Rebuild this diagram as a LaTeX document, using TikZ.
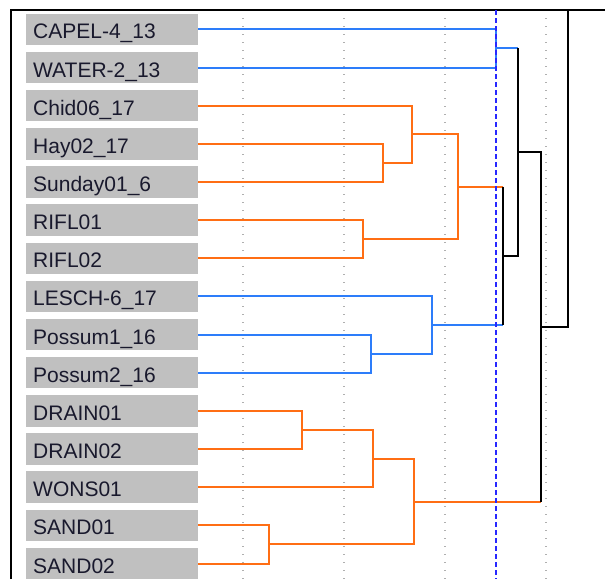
\documentclass[tikz,border=0pt]{standalone}
\usepackage{fontspec}
\setmainfont{Liberation Sans}
\definecolor{clblue}{RGB}{45,125,250}
\definecolor{clorange}{RGB}{255,110,20}
\definecolor{cutblue}{RGB}{40,40,255}
\definecolor{labelgray}{RGB}{192,192,192}
\definecolor{labeltext}{RGB}{25,25,45}
\definecolor{gridgray}{RGB}{175,175,175}
\begin{document}
\begin{tikzpicture}[x=1pt,y=-1pt,
  leaf/.style={anchor=west, fill=labelgray, text=labeltext,
    font=\fontsize{21}{24}\selectfont, minimum height=31.5pt,
    text width=158pt, inner xsep=7pt, inner ysep=0pt, align=left,
    text height=20pt, text depth=1pt},
  link/.style={line width=2pt},
  gridline/.style={gridgray, line width=1.2pt, dash pattern=on 1.2pt off 6.8pt},
  cutline/.style={cutblue, line width=2pt, dash pattern=on 5pt off 3pt},
  framel/.style={black, line width=1.6pt}]
\useasboundingbox (0,0) rectangle (605,579);

% vertical grid
\foreach \gx in {243,344,445,546}
  \draw[gridline] (\gx,10) -- (\gx,579);

% plot frame
\draw[framel] (11,579) -- (11,10) -- (605,10);

% leaf labels
\node[leaf] (c0)  at (26,29.3)  {CAPEL-4\_13};
\node[leaf] (c1)  at (26,67.5)  {WATER-2\_13};
\node[leaf] (c2)  at (26,105.6) {Chid06\_17};
\node[leaf] (c3)  at (26,143.8) {Hay02\_17};
\node[leaf] (c4)  at (26,182.0) {Sunday01\_6};
\node[leaf] (c5)  at (26,220.1) {RIFL01};
\node[leaf] (c6)  at (26,258.3) {RIFL02};
\node[leaf] (c7)  at (26,296.4) {LESCH-6\_17};
\node[leaf] (c8)  at (26,334.6) {Possum1\_16};
\node[leaf] (c9)  at (26,372.7) {Possum2\_16};
\node[leaf] (c10) at (26,410.9) {DRAIN01};
\node[leaf] (c11) at (26,449.1) {DRAIN02};
\node[leaf] (c12) at (26,487.2) {WONS01};
\node[leaf] (c13) at (26,525.4) {SAND01};
\node[leaf] (c14) at (26,563.5) {SAND02};

% merge points
\coordinate (n1)  at (495.7,48.4);
\coordinate (n2)  at (383.3,162.9);
\coordinate (n3)  at (411.7,134.25);
\coordinate (n4)  at (363.3,239.2);
\coordinate (n5)  at (457.7,186.7);
\coordinate (n6)  at (371,353.65);
\coordinate (n7)  at (431.7,325.0);
\coordinate (n8)  at (503.3,255.9);
\coordinate (n9)  at (517.7,152.1);
\coordinate (n10) at (301.7,430.0);
\coordinate (n11) at (373.3,458.6);
\coordinate (n12) at (269.3,544.45);
\coordinate (n13) at (413.7,501.5);
\coordinate (n14) at (541.3,326.8);
\coordinate (top) at (568.3,10);

% upper blue cluster
\draw[link, clblue] (c0.east) -| (n1) |- (c1.east);
% upper orange cluster
\draw[link, clorange] (c3.east) -| (n2) |- (c4.east);
\draw[link, clorange] (c2.east) -| (n3) |- (n2);
\draw[link, clorange] (c5.east) -| (n4) |- (c6.east);
\draw[link, clorange] (n3) -| (n5) |- (n4);
% middle blue cluster
\draw[link, clblue] (c8.east) -| (n6) |- (c9.east);
\draw[link, clblue] (c7.east) -| (n7) |- (n6);
% lower orange cluster
\draw[link, clorange] (c10.east) -| (n10) |- (c11.east);
\draw[link, clorange] (n10) -| (n11) |- (c12.east);
\draw[link, clorange] (c13.east) -| (n12) |- (c14.east);
\draw[link, clorange] (n11) -| (n13) |- (n12);

% joins above the cut
\draw[link, clorange] (n5) -- (n5 -| n8);
\draw[link, clblue] (n7) -- (n7 -| n8);
\draw[link, black] (n5 -| n8) -- (n7 -| n8);
\draw[link, clblue] (n1) -- (n1 -| n9);
\draw[link, black] (n1 -| n9) |- (n8);
\draw[link, clorange] (n13) -- (n13 -| n14);
\draw[link, black] (n13 -| n14) |- (n9);
\draw[link, black] (n14) -| (top);

% cut level
\draw[cutline] (495.7,10) -- (495.7,579);
\end{tikzpicture}
\end{document}
